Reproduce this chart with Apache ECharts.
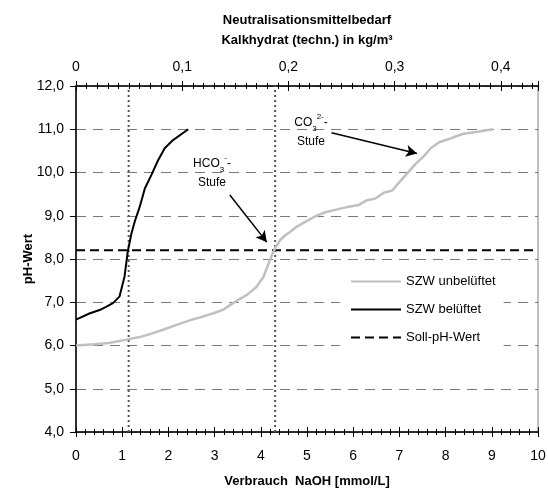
<!DOCTYPE html>
<html><head><meta charset="utf-8">
<script src="https://cdn.jsdelivr.net/npm/echarts@6/dist/echarts.min.js"></script>
<style>html,body{margin:0;padding:0;background:#fff}#c{width:548px;height:490px}</style>
</head><body><div id="c"></div>
<script>
// ---- data ----
const unbelueftetX = [0, 0.4, 0.71, 1.07, 1.4, 1.65, 1.9, 2.16, 2.46, 2.75, 2.96, 3.19, 3.4, 3.55, 3.7, 3.91, 4.06, 4.14, 4.24, 4.31, 4.42, 4.53, 4.64, 4.78, 5.0, 5.22, 5.4, 5.58, 5.87, 6.12, 6.3, 6.48, 6.66, 6.84, 7.02, 7.17, 7.35, 7.53, 7.68, 7.86, 8.11, 8.36, 8.69, 9.02];
const unbelueftetPH = [6.0, 6.03, 6.06, 6.13, 6.2, 6.28, 6.37, 6.47, 6.58, 6.67, 6.74, 6.83, 6.98, 7.08, 7.17, 7.36, 7.59, 7.82, 8.09, 8.25, 8.44, 8.55, 8.63, 8.75, 8.88, 9.01, 9.08, 9.13, 9.2, 9.25, 9.36, 9.4, 9.53, 9.58, 9.8, 9.98, 10.2, 10.38, 10.56, 10.7, 10.79, 10.89, 10.94, 11.0];
const belueftetX = [0, 0.29, 0.51, 0.66, 0.8, 0.94, 1.05, 1.12, 1.2, 1.27, 1.38, 1.49, 1.63, 1.78, 1.92, 2.1, 2.43];
const belueftetPH = [6.6, 6.74, 6.82, 6.9, 6.98, 7.13, 7.59, 8.17, 8.59, 8.86, 9.21, 9.63, 9.94, 10.29, 10.56, 10.75, 11.0];
const sollPH = 8.2;
const stufenX = [1.14, 4.31];
const xTicks = [0, 10, 1];
const yTicks = [4, 12, 1];
const topTicks = [0, 0.435, 0.1];
const seriesNames = ['SZW unbelüftet', 'SZW belüftet', 'Soll-pH-Wert'];
// annotation arrows in data coords: [fromX, fromY, toX, toY]
const arrowHCO3 = [3.33, 9.48, 4.13, 8.39];
const arrowCO3 = [5.53, 10.92, 7.38, 10.44];

const FONT = 'Arial, "Liberation Sans", sans-serif';
const comma = v => String(v).replace('.', ',');
const zip = (a, b) => a.map((v, i) => [v, b[i]]);

const chart = echarts.init(document.getElementById('c'), null, {renderer: 'canvas'});
const axisBase = {type: 'value', gridIndex: 0};
const option = {
  backgroundColor: '#fff',
  animation: false,
  textStyle: {fontFamily: FONT},
  grid: {left: 76, right: 10, top: 86, bottom: 58, show: true, borderColor: '#808080', borderWidth: 1,
    backgroundColor: 'transparent', containLabel: false, outerBoundsMode: 'none'},
  legend: {
    orient: 'vertical', left: 340, top: 266,
    data: seriesNames,
    itemWidth: 50, itemHeight: 14, itemGap: 15,
    padding: [9, 8, 12, 10],
    backgroundColor: '#fff',
    itemStyle: {opacity: 0},
    textStyle: {fontFamily: FONT, fontSize: 13, color: '#000'},
    selectedMode: false
  },
  xAxis: [
    Object.assign({}, axisBase, {
      position: 'bottom', min: xTicks[0], max: xTicks[1], interval: xTicks[2],
      name: 'Verbrauch  NaOH [mmol/L]', nameLocation: 'middle', nameGap: 43, nameMoveOverlap: false,
      nameTextStyle: {fontFamily: FONT, fontWeight: 'bold', fontSize: 13, color: '#000'},
      axisLine: {lineStyle: {color: '#000', width: 1.5}},
      axisTick: {length: 5, lineStyle: {color: '#000'}},
      minorTick: {show: true, splitNumber: 5, length: 3, lineStyle: {color: '#000'}},
      axisLabel: {fontFamily: FONT, fontSize: 14, color: '#000', margin: 17},
      splitLine: {show: false}
    }),
    Object.assign({}, axisBase, {
      position: 'top', min: topTicks[0], max: topTicks[1], interval: topTicks[2],
      axisLine: {lineStyle: {color: '#000', width: 1.5}},
      axisTick: {length: 5, lineStyle: {color: '#000'}},
      minorTick: {show: true, splitNumber: 10, length: 3, lineStyle: {color: '#000'}},
      axisLabel: {fontFamily: FONT, fontSize: 14, color: '#000', margin: 12, showMaxLabel: false,
        formatter: v => comma(Math.round(v * 10) / 10)},
      splitLine: {show: false}
    }),
    Object.assign({}, axisBase, {
      position: 'bottom', min: xTicks[0], max: xTicks[1], interval: xTicks[2],
      axisLine: {show: false},
      axisTick: {inside: true, length: 5, lineStyle: {color: '#000'}},
      minorTick: {show: true, splitNumber: 5, length: 3, lineStyle: {color: '#000'}},
      axisLabel: {show: false}, splitLine: {show: false}
    }),
    Object.assign({}, axisBase, {
      position: 'top', min: topTicks[0], max: topTicks[1], interval: topTicks[2],
      axisLine: {show: false},
      axisTick: {inside: true, length: 5, lineStyle: {color: '#000'}},
      minorTick: {show: true, splitNumber: 10, length: 3, lineStyle: {color: '#000'}},
      axisLabel: {show: false}, splitLine: {show: false}
    })
  ],
  yAxis: [
    {
      type: 'value', position: 'left', min: yTicks[0], max: yTicks[1], interval: yTicks[2],
      name: 'pH-Wert', nameLocation: 'middle', nameGap: 41, nameRotate: 90, nameMoveOverlap: false,
      nameTextStyle: {fontFamily: FONT, fontWeight: 'bold', fontSize: 13, color: '#000'},
      axisLine: {show: true, lineStyle: {color: '#000', width: 1.5}},
      axisTick: {show: true, length: 6, lineStyle: {color: '#000'}},
      axisLabel: {fontFamily: FONT, fontSize: 14, color: '#000', margin: 12,
        formatter: v => v.toFixed(1).replace('.', ',')},
      splitLine: {show: true, lineStyle: {color: '#7a7a7a', width: 1, type: [10, 7]}}
    }
  ],
  series: [
    {
      name: seriesNames[0], type: 'line', xAxisIndex: 0, yAxisIndex: 0,
      data: zip(unbelueftetX, unbelueftetPH), showSymbol: false, symbol: 'none',
      lineStyle: {color: '#c0c0c0', width: 2.5}, itemStyle: {color: '#c0c0c0'}, z: 3,
      markLine: {
        silent: true, symbol: ['none', 'arrow'], symbolSize: [9, 11],
        label: {show: false},
        lineStyle: {color: '#000', width: 1.5, type: 'solid'},
        data: [
          [{coord: [arrowHCO3[0], arrowHCO3[1]]}, {coord: [arrowHCO3[2], arrowHCO3[3]]}],
          [{coord: [arrowCO3[0], arrowCO3[1]]}, {coord: [arrowCO3[2], arrowCO3[3]]}]
        ]
      }
    },
    {
      name: seriesNames[1], type: 'line', xAxisIndex: 0, yAxisIndex: 0,
      data: zip(belueftetX, belueftetPH), showSymbol: false, symbol: 'none',
      lineStyle: {color: '#000', width: 2}, itemStyle: {color: '#000'}, z: 4
    },
    {
      name: seriesNames[2], type: 'line', xAxisIndex: 0, yAxisIndex: 0,
      data: [[xTicks[0], sollPH], [xTicks[1], sollPH]], showSymbol: false, symbol: 'none',
      lineStyle: {color: '#000', width: 2, type: [9, 5]}, itemStyle: {color: '#000'}, z: 2
    },
    {
      name: 'stufe1', type: 'line', xAxisIndex: 0, yAxisIndex: 0,
      data: [[stufenX[0], yTicks[0]], [stufenX[0], yTicks[1]]], showSymbol: false, symbol: 'none',
      lineStyle: {color: '#555', width: 2, type: [2, 3]}, z: 1
    },
    {
      name: 'stufe2', type: 'line', xAxisIndex: 0, yAxisIndex: 0,
      data: [[stufenX[1], yTicks[0]], [stufenX[1], yTicks[1]]], showSymbol: false, symbol: 'none',
      lineStyle: {color: '#555', width: 2, type: [2, 3]}, z: 1
    }
  ]
};
chart.setOption(option);

const rich = {
  n: {fontFamily: FONT, fontSize: 12, color: '#000', lineHeight: 18},
  sub: {fontFamily: FONT, fontSize: 8, color: '#000', verticalAlign: 'bottom', lineHeight: 15},
  sup: {fontFamily: FONT, fontSize: 8, color: '#000', verticalAlign: 'top', lineHeight: 20}
};
chart.setOption({
  graphic: [
    {type: 'text', x: 307, y: 30, style: {
      text: 'Neutralisationsmittelbedarf\nKalkhydrat (techn.) in kg/m³',
      font: 'bold 13px ' + FONT, fill: '#000', align: 'center', verticalAlign: 'middle', lineHeight: 20}},
    {type: 'text', x: 212, y: 173, style: {
      text: '{n|HCO}{sub|3}{sup|-}{n|-}\n{n|Stufe}', rich: rich, align: 'center', verticalAlign: 'middle'}},
    {type: 'text', x: 311, y: 132, style: {
      text: '{n|CO}{sub|3}{sup|2-}{n|-}\n{n|Stufe}', rich: rich, align: 'center', verticalAlign: 'middle'}}
  ]
});
</script></body></html>
